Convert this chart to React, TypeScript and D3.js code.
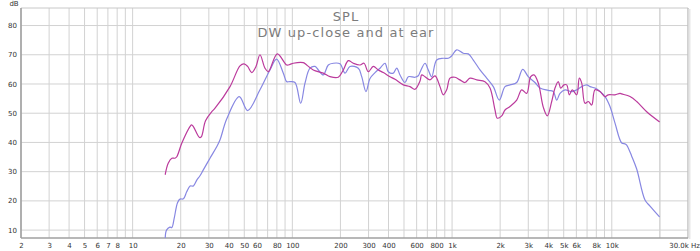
import React from "react";
import * as d3 from "d3";

const W = 700;
const H = 251;

const titleLines = ["SPL", "DW up-close and at ear"];
const yTicks = [10, 20, 30, 40, 50, 60, 70, 80];
const xLabelTicks = [2, 3, 4, 5, 6, 7, 8, 10, 20, 30, 40, 50, 60, 80, 100, 200, 300, 400, 600, 800, 1000, 2000, 3000, 4000, 5000, 6000, 8000, 10000];
const xEndLabel = "30.0k Hz";

// magenta series: "up-close"
const magentaFreq = [16.0, 16.7, 17.6, 18.4, 18.9, 20.3, 22.9, 23.4, 24.0, 26.2, 26.9, 28.6, 31.3, 32.8, 40.7, 47.0, 49.8, 52.5, 55.7, 59.2, 62.7, 67.4, 70.7, 80.5, 92.2, 96.7, 101.4, 117.1, 122.9, 135.2, 156.2, 172.1, 193.9, 208.4, 224.0, 240.7, 265.2, 280.9, 298.9, 321.2, 345.2, 371.0, 408.7, 439.1, 495.0, 545.1, 586.0, 629.7, 645.3, 676.8, 727.4, 781.6, 840.1, 881.0, 925.4, 970.5, 1043, 1121, 1205, 1295, 1427, 1607, 1728, 1857, 1919, 2045, 2145, 2305, 2539, 2729, 2933, 3107, 3258, 3467, 3727, 3947, 4205, 4410, 4625, 4788, 5021, 5220, 5420, 5659, 6031, 6261, 6481, 6796, 7127, 7485, 7851, 8437, 9068, 9509, 10474, 11256, 11535, 13002, 14318, 16541, 19838];
const magentaDb = [29.1, 32.9, 34.6, 34.6, 35.1, 39.7, 45.5, 46.0, 45.4, 41.7, 41.9, 47.4, 50.5, 51.7, 59.1, 66.2, 66.9, 66.0, 63.9, 66.0, 70.0, 65.4, 64.2, 70.3, 66.5, 66.7, 67.1, 67.3, 66.5, 64.8, 63.7, 62.5, 62.3, 64.8, 68.0, 67.1, 66.5, 67.1, 64.2, 66.0, 64.8, 63.9, 62.5, 61.6, 59.7, 59.1, 58.2, 61.0, 63.1, 62.5, 61.4, 62.8, 59.1, 56.3, 58.0, 62.0, 62.3, 61.4, 60.5, 62.0, 61.4, 60.8, 58.6, 51.1, 48.3, 49.1, 51.1, 52.3, 54.5, 58.0, 56.8, 62.5, 63.1, 60.3, 52.0, 49.1, 54.0, 58.6, 60.8, 58.6, 59.7, 59.7, 56.3, 58.0, 56.3, 62.0, 60.3, 53.4, 54.0, 52.8, 58.0, 57.4, 55.7, 56.3, 56.3, 56.8, 56.6, 55.7, 54.0, 50.5, 47.1];

// blue series: "at ear"
const blueFreq = [16.0, 16.3, 17.1, 17.6, 18.2, 19.1, 19.8, 20.8, 21.8, 22.9, 24.0, 25.2, 26.4, 27.7, 30.5, 33.6, 35.2, 38.8, 46.5, 52.5, 62.7, 72.4, 79.6, 87.8, 92.2, 96.7, 103.9, 112.8, 120.0, 129.0, 138.6, 145.4, 156.2, 167.9, 180.5, 198.7, 213.6, 229.6, 258.8, 271.8, 289.1, 306.3, 329.2, 353.8, 380.2, 398.8, 428.5, 450.1, 472.0, 507.3, 531.9, 586.0, 614.4, 629.7, 676.8, 709.8, 745.4, 801.0, 881.0, 947.0, 994.5, 1069, 1176, 1264, 1358, 1496, 1647, 1812, 1975, 2145, 2305, 2539, 2768, 3001, 3305, 3553, 4004, 4303, 4520, 4740, 5093, 5611, 6031, 6481, 6965, 7303, 7851, 8437, 9068, 9745, 10474, 11535, 12096, 12396, 13325, 14318, 16141, 17350, 19838];
const blueDb = [7.5, 10.0, 11.0, 10.9, 14.0, 19.4, 20.6, 20.7, 23.1, 25.1, 25.1, 27.1, 28.6, 30.6, 34.6, 38.5, 40.8, 48.0, 55.7, 50.9, 58.0, 64.8, 68.5, 63.7, 60.8, 60.8, 60.5, 53.4, 60.3, 65.4, 66.0, 64.8, 63.1, 66.5, 67.1, 66.9, 63.7, 66.0, 65.4, 62.5, 57.4, 61.9, 63.9, 65.4, 67.1, 64.2, 63.7, 65.4, 63.1, 60.5, 62.5, 62.3, 62.8, 64.0, 67.1, 64.8, 62.5, 68.2, 68.8, 68.8, 69.6, 71.7, 70.5, 70.3, 68.2, 64.8, 62.0, 59.1, 54.5, 59.1, 59.7, 60.5, 65.0, 62.5, 60.5, 58.6, 57.8, 57.4, 54.5, 56.8, 58.0, 57.4, 58.0, 59.1, 59.7, 59.1, 58.6, 57.4, 55.7, 52.3, 46.6, 39.8, 39.5, 39.1, 35.3, 30.9, 20.3, 18.2, 14.6];

function gridFreqs(): number[] {
  const out: number[] = [];
  for (let dec = 1; dec <= 10000; dec *= 10) {
    for (let m = 1; m <= 9; m++) {
      const f = m * dec;
      if (f >= 2 && f <= 30000) out.push(f);
    }
  }
  out.push(20000);
  return out;
}

function fmt(f: number): string {
  return f >= 1000 ? `${f / 1000}k` : `${f}`;
}

export default function App() {
  const left = 21, right = 688, top = 8, bottom = 238;
  const x = d3.scaleLog().domain([2, 30000]).range([left, right]);
  const y = d3.scaleLinear().domain([7.3, 86]).range([bottom, top]);

  const line = d3
    .line<[number, number]>()
    .x((d) => x(d[0]))
    .y((d) => y(d[1]))
    .curve(d3.curveCatmullRom.alpha(0.5));

  const mag: [number, number][] = magentaFreq.map((f, i) => [f, magentaDb[i]]);
  const blu: [number, number][] = blueFreq.map((f, i) => [f, blueDb[i]]);

  const font = "'DejaVu Sans', sans-serif";

  return (
    <svg width={W} height={H} style={{ position: "absolute", left: 0, top: 0, background: "#fff" }}>
      <defs>
        <clipPath id="plotclip">
          <rect x={left} y={top} width={right - left} height={bottom - top} />
        </clipPath>
      </defs>
      <rect x={0} y={0} width={W} height={H} fill="#fff" />
      {/* grid */}
      {yTicks.map((t) => (
        <line key={"h" + t} x1={left} x2={right} y1={y(t)} y2={y(t)} stroke="#d2d2d2" strokeWidth={1} />
      ))}
      {gridFreqs().map((f) => (
        <line key={"v" + f} x1={x(f)} x2={x(f)} y1={top} y2={bottom} stroke="#d2d2d2" strokeWidth={1} />
      ))}
      {/* frame */}
      <line x1={left} x2={right} y1={top} y2={top} stroke="#c8c8c8" strokeWidth={1} />
      <line x1={right} x2={right} y1={top} y2={bottom} stroke="#b8b8b8" strokeWidth={1} />
      <line x1={right + 1.5} x2={right + 1.5} y1={top + 1} y2={bottom + 1} stroke="#e6e6e6" strokeWidth={2} />
      <line x1={left} x2={left} y1={top} y2={bottom} stroke="#a0a0a0" strokeWidth={1.6} />
      <line x1={left} x2={right} y1={bottom} y2={bottom} stroke="#a0a0a0" strokeWidth={1.6} />

      {/* curves */}
      <g clipPath="url(#plotclip)" fill="none" strokeLinejoin="round" strokeLinecap="round">
        <path d={line(blu) || ""} stroke="#8787e2" strokeWidth={1.2} />
        <path d={line(mag) || ""} stroke="#bb3a9c" strokeWidth={1.2} />
      </g>

      {/* title */}
      <text x={346} y={21} textAnchor="middle" fontFamily={font} fontSize={13} letterSpacing={1.1} fill="#7c7c7c">
        {titleLines[0]}
      </text>
      <text x={346} y={36.5} textAnchor="middle" fontFamily={font} fontSize={13} letterSpacing={1.1} fill="#7c7c7c">
        {titleLines[1]}
      </text>

      {/* y labels */}
      <text x={14} y={5.5} textAnchor="middle" fontFamily={font} fontSize={7} fill="#333">dB</text>
      {yTicks.map((t) => (
        <text key={"yl" + t} x={17} y={y(t) + 2.6} textAnchor="end" fontFamily={font} fontSize={7} fill="#333">
          {t}
        </text>
      ))}
      {/* x labels */}
      {xLabelTicks.map((f) => (
        <text key={"xl" + f} x={x(f) + 0.5} y={247.5} textAnchor="middle" fontFamily={font} fontSize={7} fill="#333">
          {fmt(f)}
        </text>
      ))}
      <text x={700} y={247.5} textAnchor="end" fontFamily={font} fontSize={7} fill="#333">{xEndLabel}</text>
    </svg>
  );
}
